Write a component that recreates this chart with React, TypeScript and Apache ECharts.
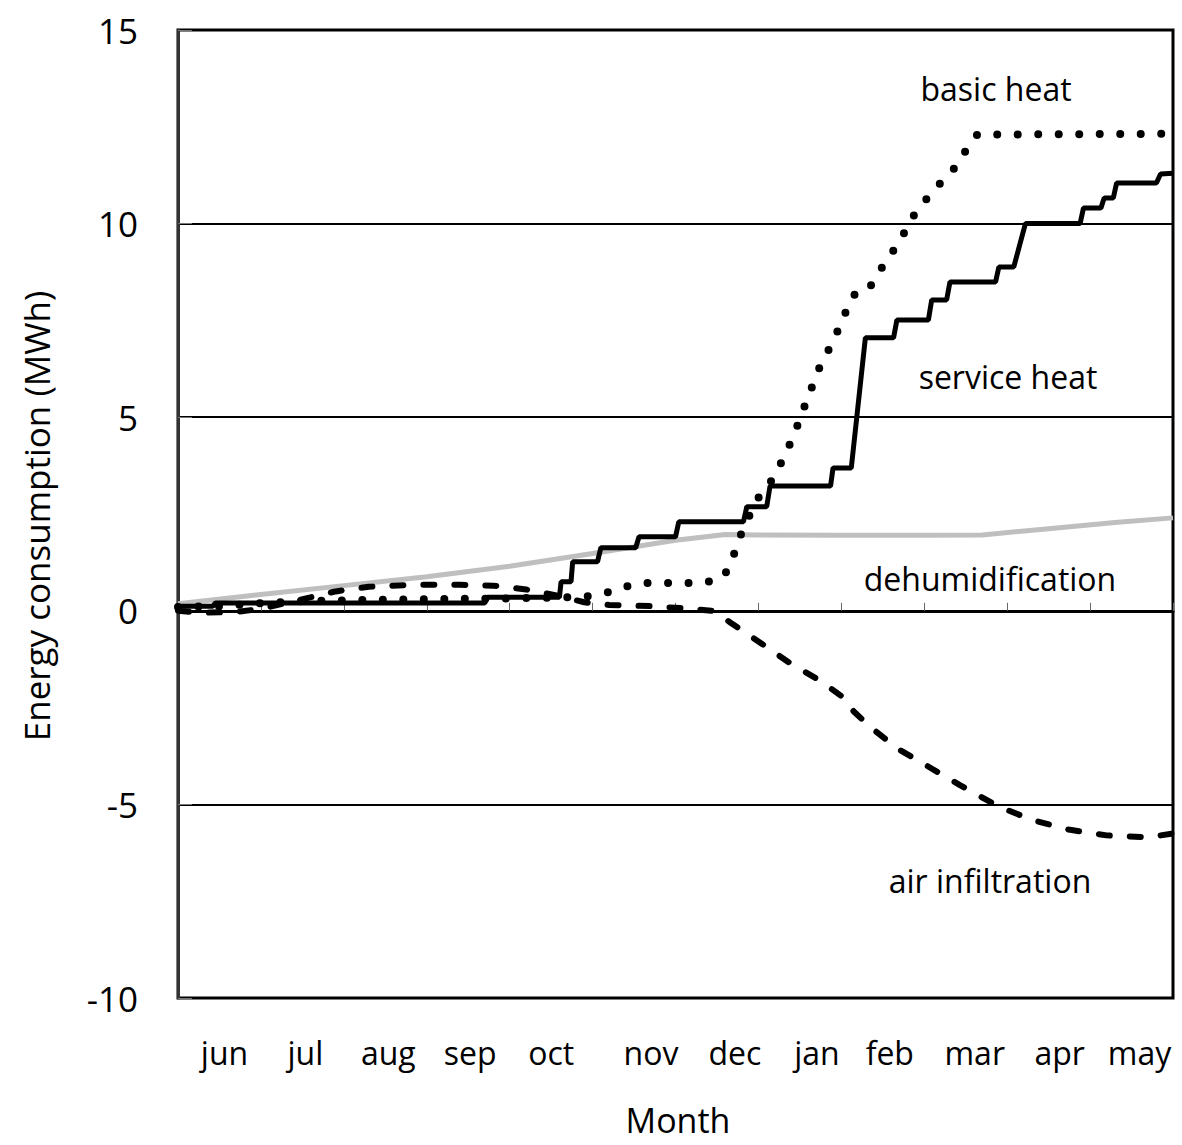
import React, { useEffect, useRef } from "react";
import * as echarts from "echarts";

const months = ["jun", "jul", "aug", "sep", "oct", "nov", "dec", "jan", "feb", "mar", "apr", "may"];

// x = month index from start of June (0..12), y = MWh
const dehumidification: number[][] = [
  [0, 0.18], [1, 0.42], [2, 0.65], [3, 0.88], [4, 1.15], [5, 1.48], [6, 1.82], [6.6, 1.97],
  [7, 1.96], [8, 1.95], [9, 1.95], [9.7, 1.96], [10.5, 2.12], [11.3, 2.28], [12, 2.4],
];

const airInfiltration: number[][] = [
  [0, 0], [0.3, -0.05], [0.7, -0.03], [1.0, 0.05], [1.4, 0.25], [1.9, 0.5], [2.3, 0.62], [2.8, 0.67],
  [3.4, 0.67], [3.8, 0.65], [4.2, 0.55], [4.6, 0.38], [4.9, 0.22], [5.2, 0.15], [5.7, 0.12], [6.2, 0.05],
  [6.45, 0], [6.66, -0.3], [7.04, -0.85], [7.38, -1.35], [7.74, -1.8], [8.0, -2.2], [8.15, -2.6],
  [8.35, -3.0], [8.67, -3.55], [9.03, -4.0], [9.43, -4.5], [9.89, -5.05], [10.3, -5.4], [10.74, -5.65],
  [11.2, -5.8], [11.7, -5.85], [12, -5.75],
];

const basicHeat: number[][] = [
  [0, 0.1], [0.5, 0.12], [1, 0.2], [1.5, 0.25], [2, 0.27], [3, 0.3], [4, 0.32], [4.9, 0.36],
  [5.21, 0.49], [5.39, 0.62], [5.6, 0.72], [6.33, 0.72], [6.54, 0.82], [6.65, 1.1], [6.77, 1.88],
  [6.9, 2.5], [7.02, 3.0], [7.14, 3.3], [7.32, 4.0], [7.47, 4.78], [7.6, 5.53], [7.74, 6.3],
  [7.91, 7.0], [8.06, 7.75], [8.15, 8.16], [8.31, 8.24], [8.5, 8.9], [8.7, 9.53], [8.87, 10.2],
  [9.1, 10.84], [9.34, 11.36], [9.53, 11.98], [9.64, 12.3], [12, 12.32],
];

const serviceHeat: number[][] = [
  [0, 0.12], [0.42, 0.12], [0.45, 0.2], [3.7, 0.2], [3.73, 0.35], [4.6, 0.35], [4.62, 0.75],
  [4.74, 0.75], [4.76, 1.27], [5.06, 1.27], [5.1, 1.63], [5.52, 1.63], [5.56, 1.91], [6.0, 1.91],
  [6.04, 2.3], [6.82, 2.3], [6.86, 2.69], [7.1, 2.69], [7.14, 3.22], [7.87, 3.22], [7.9, 3.69],
  [8.12, 3.69], [8.29, 7.05], [8.63, 7.05], [8.67, 7.51], [9.05, 7.51], [9.09, 8.03], [9.27, 8.03],
  [9.31, 8.49], [9.86, 8.49], [9.9, 8.88], [10.08, 8.88], [10.22, 10.0], [10.88, 10.0],
  [10.92, 10.4], [11.13, 10.4], [11.17, 10.66], [11.28, 10.66], [11.32, 11.05], [11.8, 11.05],
  [11.85, 11.28], [12, 11.3],
];

const FONT = "Open Sans";

// horizontal nudge (px) of each month label from its cell centre, as in the reference
const labelNudge = [5, 3, 3, 2, 0, 17, 18, 17, 7, 9, 11, 8];

export default function App() {
  const ref = useRef<HTMLDivElement>(null);
  useEffect(() => {
    if (!ref.current) return;
    const chart = echarts.init(ref.current, undefined, { renderer: "svg" });
    const label = (text: string, x: number, y: number) => ({
      type: "text",
      x,
      y,
      style: {
        text,
        fill: "#000",
        font: `32px "${FONT}"`,
        align: "center",
        verticalAlign: "middle",
      },
    });
    const rich: Record<string, any> = {};
    months.forEach((m, i) => {
      rich["m" + i] = {
        fontSize: 32,
        fontFamily: FONT,
        color: "#000",
        padding: [0, 0, 0, labelNudge[i] * 2],
      };
    });
    chart.setOption({
      animation: false,
      backgroundColor: "#fff",
      grid: {
        left: 178,
        right: 9,
        top: 30,
        bottom: 147,
        show: true,
        borderColor: "#000",
        borderWidth: 3,
      },
      xAxis: [
        {
          type: "value",
          min: 0,
          max: 12,
          interval: 1,
          axisLine: { show: true, lineStyle: { color: "#000", width: 3 } },
          axisTick: { show: true, inside: true, length: 8, lineStyle: { color: "#666", width: 1 } },
          axisLabel: { show: false },
          splitLine: { show: false },
        },
        {
          type: "category",
          data: months,
          position: "bottom",
          boundaryGap: true,
          axisLine: { show: false },
          axisTick: { show: false },
          axisLabel: {
            interval: 0,
            hideOverlap: false,
            color: "#000",
            fontSize: 32,
            fontFamily: FONT,
            margin: 38,
            formatter: (v: string, i: number) => `{m${i}|${v}}`,
            rich,
          },
          splitLine: { show: false },
        },
      ],
      yAxis: {
        type: "value",
        min: -10,
        max: 15,
        interval: 5,
        axisLine: { show: true, lineStyle: { color: "#333", width: 3 } },
        axisTick: { show: true, inside: true, length: 14, lineStyle: { color: "#777", width: 1 } },
        axisLabel: { color: "#000", fontSize: 35, fontFamily: FONT, margin: 40 },
        splitLine: { show: true, lineStyle: { color: "#000", width: 2 } },
      },
      graphic: [
        label("basic heat", 996, 88),
        label("service heat", 1008, 376),
        label("dehumidification", 990, 578),
        label("air infiltration", 990, 880),
        {
          type: "text",
          x: 678,
          y: 1120,
          style: {
            text: "Month",
            fill: "#000",
            font: `34px "${FONT}"`,
            align: "center",
            verticalAlign: "middle",
          },
        },
        {
          type: "text",
          x: 36,
          y: 516,
          rotation: Math.PI / 2,
          style: {
            text: "Energy consumption (MWh)",
            fill: "#000",
            font: `35px "${FONT}"`,
            align: "center",
            verticalAlign: "middle",
          },
        },
      ],
      series: [
        {
          name: "dehumidification",
          type: "line",
          data: dehumidification,
          showSymbol: false,
          symbol: "none",
          lineStyle: { color: "#bfbfbf", width: 5 },
          z: 2,
        },
        {
          name: "air infiltration",
          type: "line",
          data: airInfiltration,
          showSymbol: false,
          symbol: "none",
          lineStyle: { color: "#000", width: 6, type: [11, 20], cap: "round" },
          z: 3,
        },
        {
          name: "basic heat",
          type: "line",
          data: basicHeat,
          showSymbol: false,
          symbol: "none",
          lineStyle: { color: "#000", width: 8, type: [0, 20.5], cap: "round" },
          z: 4,
        },
        {
          name: "service heat",
          type: "line",
          data: serviceHeat,
          showSymbol: false,
          symbol: "none",
          lineStyle: { color: "#000", width: 5 },
          z: 5,
        },
      ],
    });
    return () => chart.dispose();
  }, []);
  return (
    <div
      ref={ref}
      style={{ position: "fixed", left: 0, top: 0, width: 1182, height: 1145, background: "#fff" }}
    />
  );
}
